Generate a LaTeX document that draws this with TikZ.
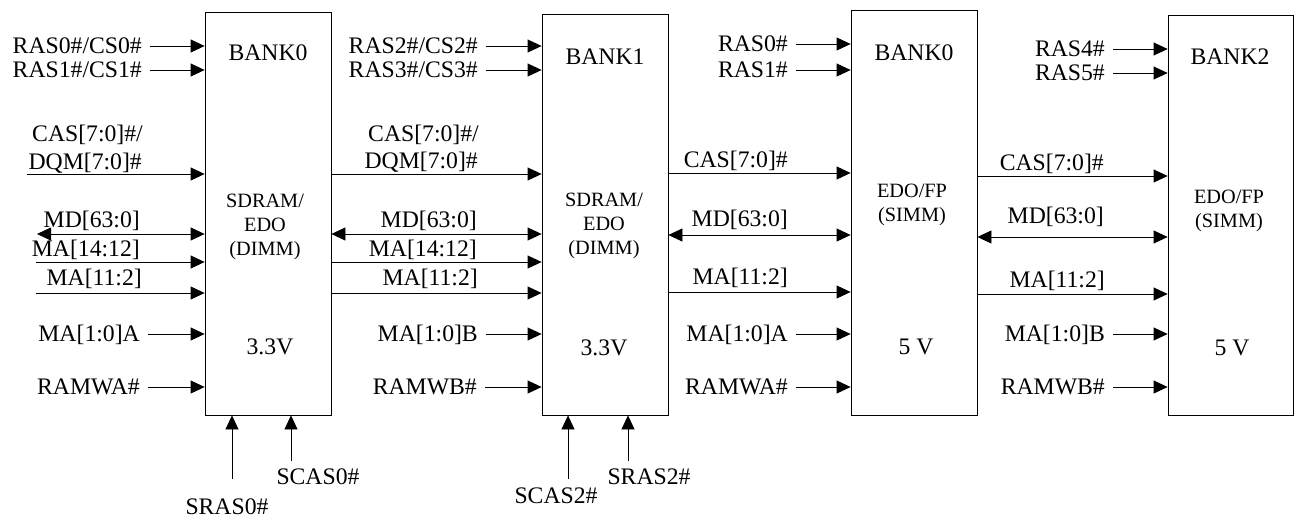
\documentclass[tikz,border=0pt]{standalone}
\usepackage{fontspec}
\setmainfont{Liberation Serif}
\usetikzlibrary{arrows.meta,positioning}
\newcommand{\sigfont}{\fontsize{23.7}{28}\selectfont}
\newcommand{\boxfont}{\fontsize{20.3}{24}\selectfont}
\tikzset{
  bank/.style={draw, line width=0.8pt, inner sep=0pt, minimum width=126pt, minimum height=403pt},
  sig/.style={line width=0.8pt, -{Triangle[length=14pt,width=13pt]}},
  insig/.style={sig, shorten <=8pt},
  bus/.style={line width=0.8pt, {Triangle[length=14pt,width=13pt]}-{Triangle[length=14pt,width=13pt]}},
  lbl/.style={font=\sigfont, inner sep=0pt, text height=15.6pt, text depth=0pt},
  boxtxt/.style={font=\boxfont, align=center, inner sep=0pt},
}
\begin{document}
\begin{tikzpicture}[x=1pt, y=-1pt]
  \useasboundingbox (0,0) rectangle (1297,520);

  % memory banks
  \node[bank] (b1) at (268,213.5) {};
  \node[bank, minimum height=401pt] (b2) at (605,214.5) {};
  \node[bank, minimum height=405pt] (b3) at (914,212.5) {};
  \node[bank, minimum width=125pt, minimum height=400pt] (b4) at (1230.5,215) {};

  % texts inside the banks
  \node[lbl] (n1) at (268,53) {BANK0};
  \node[boxtxt] (t1) at (265,227) {SDRAM/\\EDO\\(DIMM)};
  \node[lbl] (v1) at (270,347) {3.3V};
  \node[lbl] (n2) at (605,57) {BANK1};
  \node[boxtxt] (t2) at (604,226) {SDRAM/\\EDO\\(DIMM)};
  \node[lbl] (v2) at (604,348) {3.3V};
  \node[lbl] (n3) at (914,53) {BANK0};
  \node[boxtxt] (t3) at (912,205) {EDO/FP\\(SIMM)};
  \node[lbl] (v3) at (916,347) {5 V};
  \node[lbl] (n4) at (1230,57) {BANK2};
  \node[boxtxt] (t4) at (1229,211) {EDO/FP\\(SIMM)};
  \node[lbl] (v4) at (1232,348) {5 V};

  % BANK0 (DIMM) inputs
  \node[lbl, anchor=east] (ras0a) at (142,46) {RAS0\#/CS0\#};
  \node[lbl, anchor=east] (ras1a) at (142,70) {RAS1\#/CS1\#};
  \draw[insig] (ras0a.east) -- (ras0a.east -| b1.west);
  \draw[insig] (ras1a.east) -- (ras1a.east -| b1.west);
  \node[lbl, anchor=base east] (cas1t) at (143,141) {CAS[7:0]\#/};
  \node[lbl, anchor=base east] (dqm1t) at (142,169) {DQM[7:0]\#};
  \node[lbl, anchor=base east] (md1t) at (140,227) {MD[63:0]};
  \node[lbl, anchor=base east] (mah1t) at (140,256) {MA[14:12]};
  \node[lbl, anchor=base east] (mal1t) at (142,285) {MA[11:2]};
  \coordinate (cas1) at (27,174);
  \coordinate (md1) at (37,234);
  \coordinate (mah1) at (36,262);
  \coordinate (mal1) at (36,293);
  \draw[sig] (cas1) -- (cas1 -| b1.west);
  \draw[bus] (md1) -- (md1 -| b1.west);
  \draw[sig] (mah1) -- (mah1 -| b1.west);
  \draw[sig] (mal1) -- (mal1 -| b1.west);
  \node[lbl, anchor=east] (maa1) at (140,334) {MA[1:0]A};
  \node[lbl, anchor=east] (wa1) at (140,387) {RAMWA\#};
  \draw[insig] (maa1.east) -- (maa1.east -| b1.west);
  \draw[insig] (wa1.east) -- (wa1.east -| b1.west);

  % BANK1 (DIMM) inputs
  \node[lbl, anchor=east] (ras2a) at (478,46) {RAS2\#/CS2\#};
  \node[lbl, anchor=east] (ras3a) at (478,70) {RAS3\#/CS3\#};
  \draw[insig] (ras2a.east) -- (ras2a.east -| b2.west);
  \draw[insig] (ras3a.east) -- (ras3a.east -| b2.west);
  \node[lbl, anchor=base east] (cas2t) at (479,141) {CAS[7:0]\#/};
  \node[lbl, anchor=base east] (dqm2t) at (478,168) {DQM[7:0]\#};
  \node[lbl, anchor=base east] (md2t) at (477,227) {MD[63:0]};
  \node[lbl, anchor=base east] (mah2t) at (477,256) {MA[14:12]};
  \node[lbl, anchor=base east] (mal2t) at (478,285) {MA[11:2]};
  \draw[sig] (b1.east |- cas1) -- (b2.west |- cas1);
  \draw[bus] (b1.east |- md1) -- (b2.west |- md1);
  \draw[sig] (b1.east |- mah1) -- (b2.west |- mah1);
  \draw[sig] (b1.east |- mal1) -- (b2.west |- mal1);
  \node[lbl, anchor=east] (mab2) at (478,334) {MA[1:0]B};
  \node[lbl, anchor=east] (wb2) at (477,387) {RAMWB\#};
  \draw[insig] (mab2.east) -- (mab2.east -| b2.west);
  \draw[insig] (wb2.east) -- (wb2.east -| b2.west);

  % BANK0 (SIMM) inputs
  \node[lbl, anchor=east] (ras0b) at (788,44) {RAS0\#};
  \node[lbl, anchor=east] (ras1b) at (788,70) {RAS1\#};
  \draw[insig] (ras0b.east) -- (ras0b.east -| b3.west);
  \draw[insig] (ras1b.east) -- (ras1b.east -| b3.west);
  \coordinate (cas3) at (0,173);
  \coordinate (md3) at (0,235);
  \coordinate (mal3) at (0,292);
  \node[lbl, anchor=base east] (cas3t) at (788,167) {CAS[7:0]\#};
  \node[lbl, anchor=base east] (md3t) at (788,226) {MD[63:0]};
  \node[lbl, anchor=base east] (mal3t) at (788,284) {MA[11:2]};
  \draw[sig] (b2.east |- cas3) -- (b3.west |- cas3);
  \draw[bus] (b2.east |- md3) -- (b3.west |- md3);
  \draw[sig] (b2.east |- mal3) -- (b3.west |- mal3);
  \node[lbl, anchor=east] (maa3) at (788,334) {MA[1:0]A};
  \node[lbl, anchor=east] (wa3) at (788,387) {RAMWA\#};
  \draw[insig] (maa3.east) -- (maa3.east -| b3.west);
  \draw[insig] (wa3.east) -- (wa3.east -| b3.west);

  % BANK2 (SIMM) inputs
  \node[lbl, anchor=east] (ras4b) at (1105,49) {RAS4\#};
  \node[lbl, anchor=east] (ras5b) at (1105,73) {RAS5\#};
  \draw[insig] (ras4b.east) -- (ras4b.east -| b4.west);
  \draw[insig] (ras5b.east) -- (ras5b.east -| b4.west);
  \coordinate (cas4) at (0,176);
  \coordinate (md4) at (0,237);
  \coordinate (mal4) at (0,294);
  \node[lbl, anchor=base east] (cas4t) at (1104,170) {CAS[7:0]\#};
  \node[lbl, anchor=base east] (md4t) at (1104,223) {MD[63:0]};
  \node[lbl, anchor=base east] (mal4t) at (1105,287) {MA[11:2]};
  \draw[sig] (b3.east |- cas4) -- (b4.west |- cas4);
  \draw[bus] (b3.east |- md4) -- (b4.west |- md4);
  \draw[sig] (b3.east |- mal4) -- (b4.west |- mal4);
  \node[lbl, anchor=east] (mab4) at (1105,334) {MA[1:0]B};
  \node[lbl, anchor=east] (wb4) at (1105,387) {RAMWB\#};
  \draw[insig] (mab4.east) -- (mab4.east -| b4.west);
  \draw[insig] (wb4.east) -- (wb4.east -| b4.west);

  % strobes from below
  \coordinate (sras0) at (232,479);
  \coordinate (scas0) at (291,461);
  \coordinate (scas2) at (568,479);
  \coordinate (sras2) at (628,461);
  \draw[sig] (sras0) -- (sras0 |- b1.south);
  \draw[sig] (scas0) -- (scas0 |- b1.south);
  \draw[sig] (scas2) -- (scas2 |- b2.south);
  \draw[sig] (sras2) -- (sras2 |- b2.south);
  \node[lbl] (sras0t) at (227,507) {SRAS0\#};
  \node[lbl] (scas0t) at (318,477) {SCAS0\#};
  \node[lbl] (scas2t) at (556,496) {SCAS2\#};
  \node[lbl] (sras2t) at (649,477) {SRAS2\#};
\end{tikzpicture}
\end{document}
